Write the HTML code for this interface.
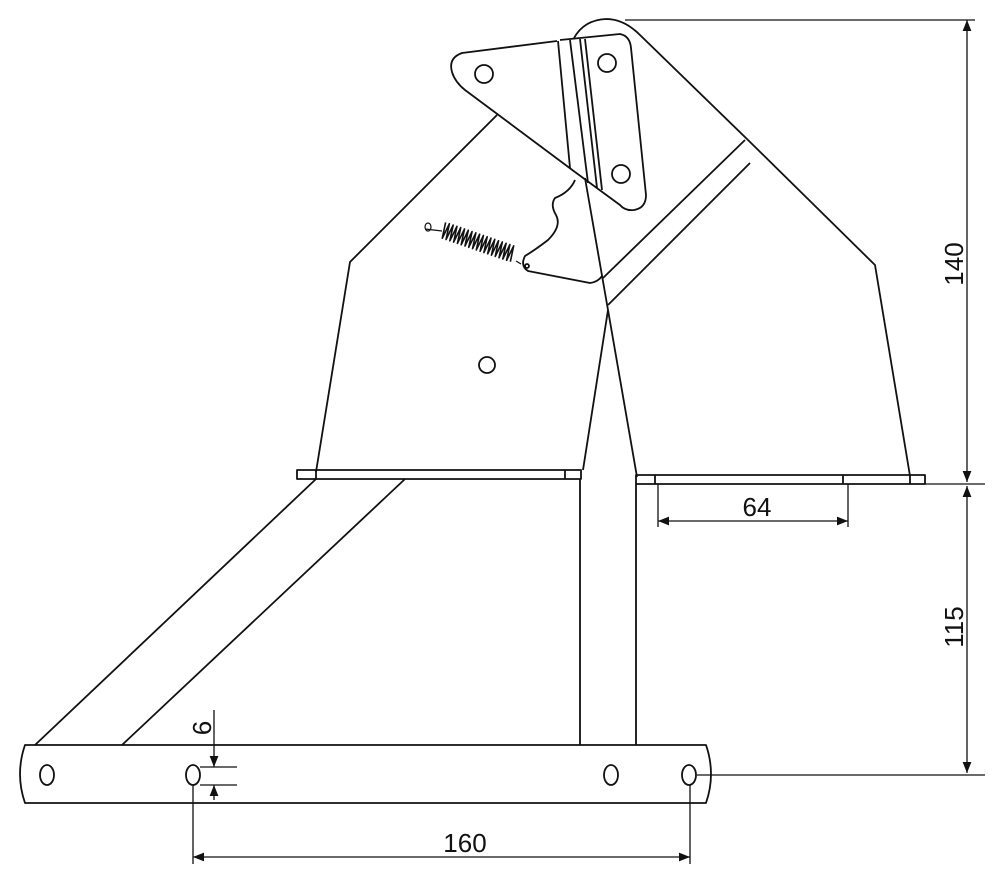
<!DOCTYPE html>
<html><head><meta charset="utf-8"><style>
html,body{margin:0;padding:0;background:#fff;}
svg{display:block;}
text{font-family:"Liberation Sans",sans-serif;font-size:26px;fill:#111;}
</style></head><body>
<svg width="999" height="885" viewBox="0 0 999 885" xmlns="http://www.w3.org/2000/svg">
<defs>
<marker id="a" viewBox="0 0 10 10" refX="10" refY="5" markerWidth="11" markerHeight="11" markerUnits="userSpaceOnUse" orient="auto-start-reverse"><path d="M0,1 L10,5 L0,9 z" fill="#111"/></marker>
</defs>
<g fill="none" stroke="#111" stroke-width="1.8" stroke-linejoin="round">
<path d="M574,38 Q584,20 606,19 Q624,19 640,35 L748,140 L875,265 L910,476"/>
<path d="M497,115 L350,262 L316,472"/>
<line x1="745" y1="140" x2="603" y2="278"/>
<line x1="750" y1="163" x2="608" y2="305"/>
<path d="M585,178 L608,310 L583,470"/>
<path d="M608,310 L637,477"/>
<path d="M557,41 L462,53 Q448,58 452,72 Q455,82 465,90 L575,172"/>
<path d="M560,40 L620,34 Q630,36 631,48 L646,195 Q646,208 634,210 Q625,211 620,205 L575,172"/>
<line x1="558" y1="41" x2="570" y2="168"/>
<line x1="570" y1="40" x2="588" y2="183"/>
<line x1="580" y1="39" x2="597" y2="188"/>
<line x1="585" y1="39" x2="602" y2="190"/>
<circle cx="484" cy="74" r="9"/>
<circle cx="607" cy="63" r="9"/>
<circle cx="621" cy="174" r="9"/>
<path d="M575,180 Q570,192 555,198 Q550,205 556,215 Q562,226 548,240 Q535,250 525,256 Q520,266 528,271 L590,283 Q598,282 602,276"/>
<circle cx="527" cy="266" r="2"/>
<path d="M425,229 L442,231" stroke-width="1.2"/>
<ellipse cx="428" cy="227" rx="3" ry="4" stroke-width="1.2"/>
<path d="M443,222 l2,16 l2,-16 l2,16 l2,-16 l2,16 l2,-16 l2,16 l2,-16 l2,16 l2,-16 l2,16 l2,-16 l2,16 l2,-16 l2,16 l2,-16 l2,16 l2,-16 l2,16 l2,-16 l2,16 l2,-16 l2,16 l2,-16 l2,16 l2,-16 l2,16 l2,-16 l2,16 l2,-16 l2,16 l2,-16 l2,16 l2,-16 l2,16 l2,-16 l2,16" transform="rotate(19 443 230)" stroke-width="1.6"/>
<path d="M516,261 L521,264" stroke-width="1.2"/>
<circle cx="487" cy="365" r="8"/>
<rect x="297" y="470" width="284" height="9"/>
<line x1="316" y1="470" x2="316" y2="479"/>
<line x1="565" y1="470" x2="565" y2="479"/>
<rect x="636" y="475" width="289" height="9"/>
<line x1="655" y1="475" x2="655" y2="484"/>
<line x1="843" y1="475" x2="843" y2="484"/>
<line x1="910" y1="475" x2="910" y2="484"/>
<line x1="316" y1="479" x2="35" y2="745"/>
<line x1="405" y1="479" x2="122" y2="745"/>
<line x1="580" y1="479" x2="580" y2="745"/>
<line x1="636" y1="484" x2="636" y2="745"/>
<path d="M25,745 L706,745 Q716,774 706,803 L25,803 Q15,774 25,745 z"/>
<ellipse cx="47" cy="775" rx="7" ry="10"/>
<ellipse cx="193" cy="775" rx="7" ry="10"/>
<ellipse cx="611" cy="775" rx="7" ry="10"/>
<ellipse cx="689" cy="775" rx="7" ry="10"/>
</g>
<g fill="none" stroke="#111" stroke-width="1.3">
<line x1="625" y1="20" x2="975" y2="20"/>
<line x1="925" y1="484" x2="985" y2="484"/>
<line x1="697" y1="775" x2="985" y2="775"/>
<line x1="967" y1="20" x2="967" y2="482" marker-start="url(#a)" marker-end="url(#a)"/>
<line x1="967" y1="486" x2="967" y2="773" marker-start="url(#a)" marker-end="url(#a)"/>
<line x1="658" y1="484" x2="658" y2="527"/>
<line x1="848" y1="484" x2="848" y2="527"/>
<line x1="658" y1="521" x2="848" y2="521" marker-start="url(#a)" marker-end="url(#a)"/>
<line x1="193" y1="785" x2="193" y2="864"/>
<line x1="690" y1="785" x2="690" y2="864"/>
<line x1="193" y1="857" x2="690" y2="857" marker-start="url(#a)" marker-end="url(#a)"/>
<line x1="200" y1="767" x2="237" y2="767"/>
<line x1="200" y1="785" x2="237" y2="785"/>
<line x1="214" y1="710" x2="214" y2="767" marker-end="url(#a)"/>
<line x1="214" y1="800" x2="214" y2="785" marker-end="url(#a)"/>
</g>
<text x="757" y="516" text-anchor="middle">64</text>
<text x="465" y="852" text-anchor="middle">160</text>
<text transform="translate(963,264) rotate(-90)" text-anchor="middle">140</text>
<text transform="translate(963,627) rotate(-90)" text-anchor="middle">115</text>
<text transform="translate(211,728) rotate(-90)" text-anchor="middle">6</text>
</svg>
</body></html>
